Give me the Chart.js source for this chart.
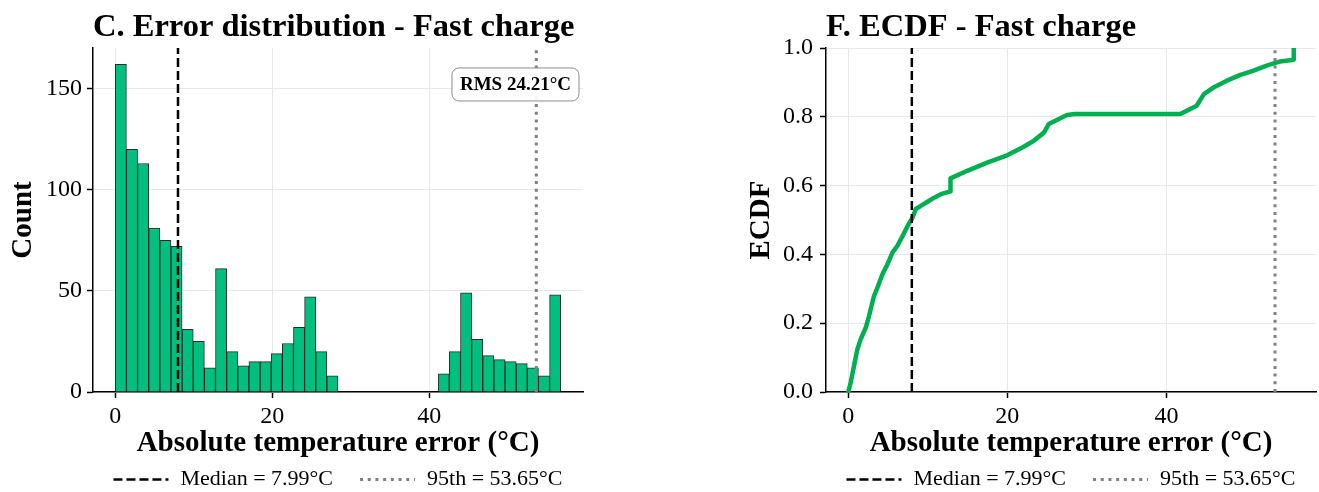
<!DOCTYPE html>
<html>
<head>
<meta charset="utf-8">
<title>Fast charge error</title>
<script src="https://cdn.jsdelivr.net/npm/chart.js@4.4.1/dist/chart.umd.min.js"></script>
<style>
  html, body { margin: 0; padding: 0; background: #fff; }
  #wrap { position: relative; width: 1319px; height: 492px; }
  .panel { position: absolute; top: 0; }
  #histPanel { left: 0; }
  #ecdfPanel { left: 660px; }
</style>
</head>
<body>
<div id="wrap">
  <div class="panel" id="histPanel"><canvas id="hist" width="660" height="492"></canvas></div>
  <div class="panel" id="ecdfPanel"><canvas id="ecdf" width="659" height="492"></canvas></div>
</div>
<script>
// histogram: 40 equal bins starting at 0
const binStart = 0;
const binWidth = 1.419;
const histCounts = [
  162, 120, 113, 81, 75, 72, 31, 25, 12, 61,
  20, 13, 15, 15, 19, 24, 32, 47, 20, 8,
  0, 0, 0, 0, 0, 0, 0, 0, 0,
  9, 20, 49, 26, 18, 16, 15, 14, 12, 8, 48
];

// empirical CDF of the absolute error
const ecdfX = [0, 0.29, 0.71, 1.13, 1.55, 2.18, 2.6, 3.23, 3.66, 4.29, 4.92, 5.55, 6.18,
  6.81, 7.44, 8.07, 8.49, 9.12, 9.96, 10.8, 11.64, 12.85, 12.85,
  14.95, 17.46, 19.97, 22.06, 23.3, 24.6, 25.2, 27.5, 28.5, 41.75, 43.8, 44.7,
  45.9, 47.6, 49.3, 50.96, 52.6, 54.3, 56.0, 56.0];
const ecdfY = [0, 0.026, 0.075, 0.123, 0.153, 0.186, 0.220, 0.279, 0.303, 0.342, 0.371, 0.405, 0.425,
  0.453, 0.482, 0.507, 0.532, 0.541, 0.553, 0.565, 0.575, 0.583, 0.621,
  0.643, 0.667, 0.688, 0.713, 0.730, 0.754, 0.779, 0.805, 0.808, 0.808, 0.832, 0.866,
  0.885, 0.905, 0.922, 0.934, 0.949, 0.961, 0.966, 1.0];

const medianErr = 7.99;
const p95Err = 53.65;
const rmsErr = 24.21;

const histXTicks = [0, 20, 40];
const histYTicks = [0, 50, 100, 150];
const ecdfXTicks = [0, 20, 40];
const ecdfYTicks = [0, 0.2, 0.4, 0.6, 0.8, 1.0];

const SERIF = '"Liberation Serif", "Times New Roman", serif';
Chart.defaults.font.family = SERIF;
Chart.defaults.color = '#000';

// rounded annotation box in the upper right of the plot area
const rmsBox = {
  id: 'rmsBox',
  afterDatasetsDraw(chart, args, opts) {
    if (!opts.text) return;
    const { ctx, chartArea: a } = chart;
    ctx.save();
    ctx.font = 'bold 19px ' + SERIF;
    const w = ctx.measureText(opts.text).width;
    const right = a.left + 0.9755 * (a.right - a.left);
    const cy = a.top + 0.106 * (a.bottom - a.top);
    const padX = 8, h = 33;
    ctx.beginPath();
    ctx.roundRect(right - w - padX, cy - h / 2, w + 2 * padX, h, 7);
    ctx.fillStyle = 'rgba(255,255,255,0.9)';
    ctx.fill();
    ctx.strokeStyle = '#8c8c8c';
    ctx.lineWidth = 1;
    ctx.stroke();
    ctx.fillStyle = '#000';
    ctx.textAlign = 'right';
    ctx.textBaseline = 'middle';
    ctx.fillText(opts.text, right, cy + 1);
    ctx.restore();
  }
};

// legend row under the x axis title, built from the reference-line datasets
const lineLegend = {
  id: 'lineLegend',
  afterDraw(chart, args, opts) {
    const { ctx, chartArea: a } = chart;
    const items = chart.data.datasets.filter(d => d.refLine);
    const handleW = 55, textGap = 12, itemGap = 27;
    ctx.save();
    ctx.font = '22px ' + SERIF;
    const widths = items.map(d => handleW + textGap + ctx.measureText(d.label).width);
    const total = widths.reduce((s, v) => s + v, 0) + itemGap * (items.length - 1);
    let x = (a.left + a.right) / 2 - total / 2;
    const y = chart.scales.x.bottom + opts.offset;
    items.forEach((d, i) => {
      ctx.strokeStyle = d.borderColor;
      ctx.lineWidth = d.borderWidth;
      ctx.setLineDash(d.borderDash);
      ctx.beginPath();
      ctx.moveTo(x, y);
      ctx.lineTo(x + handleW, y);
      ctx.stroke();
      ctx.setLineDash([]);
      ctx.fillStyle = '#000';
      ctx.textAlign = 'left';
      ctx.textBaseline = 'middle';
      ctx.fillText(d.label, x + handleW + textGap, y);
      x += widths[i] + itemGap;
    });
    ctx.restore();
  }
};

function refLines(yTop) {
  return [
    {
      type: 'line', refLine: true, order: 0,
      label: 'Median = ' + medianErr.toFixed(2) + '°C',
      data: [{ x: medianErr, y: 0 }, { x: medianErr, y: yTop }],
      borderColor: '#000', borderWidth: 2.5, borderDash: [9, 4],
      pointRadius: 0, fill: false
    },
    {
      type: 'line', refLine: true, order: 0,
      label: '95th = ' + p95Err.toFixed(2) + '°C',
      data: [{ x: p95Err, y: 0 }, { x: p95Err, y: yTop }],
      borderColor: '#808080', borderWidth: 3, borderDash: [3, 4.7],
      pointRadius: 0, fill: false
    }
  ];
}

function xAxis(min, max, ticks) {
  return {
    type: 'linear', min, max, offset: false,
    afterBuildTicks: s => { s.ticks = ticks.map(v => ({ value: v })); },
    afterFit: s => { s.height = 69; },
    grid: { color: '#e8e8e8', lineWidth: 1, tickColor: '#000', tickLength: 6, tickWidth: 1.5, offset: false },
    border: { color: '#000', width: 1.5 },
    ticks: { font: { size: 24 }, padding: 4, maxRotation: 0 },
    title: {
      display: true, text: 'Absolute temperature error (°C)',
      font: { size: 29, weight: 'bold' }, padding: { top: 0, bottom: 0 }
    }
  };
}

function yAxis(min, max, ticks, title, width, titlePad, tickPad, fmt) {
  return {
    min, max,
    afterBuildTicks: s => { s.ticks = ticks.map(v => ({ value: v })); },
    afterFit: s => { s.width = width; },
    grid: { color: '#e8e8e8', lineWidth: 1, tickColor: '#000', tickLength: 6, tickWidth: 1.5 },
    border: { color: '#000', width: 1.5 },
    ticks: { font: { size: 24 }, padding: tickPad, callback: fmt },
    title: {
      display: true, text: title,
      font: { size: 29, weight: 'bold' }, padding: { top: titlePad, bottom: 0 }
    }
  };
}

function titleOpts(text) {
  return {
    display: true, text, align: 'start', fullSize: false,
    font: { size: 32.5, weight: 'bold' }, padding: { top: 8.5, bottom: 0.5 }
  };
}

// C. histogram of absolute errors
const histMax = 170.1;
const histData = histCounts
  .map((c, i) => ({ x: binStart + (i + 0.5) * binWidth, y: c }))
  .filter(p => p.y > 0);

new Chart(document.getElementById('hist'), {
  type: 'bar',
  data: {
    datasets: [
      ...refLines(histMax),
      {
        type: 'bar', order: 2, label: 'Count',
        data: histData,
        backgroundColor: '#00BF7F',
        borderColor: 'rgba(20,20,20,0.9)',
        borderWidth: 1,
        barPercentage: 1, categoryPercentage: 1
      }
    ]
  },
  options: {
    responsive: false, animation: false,
    layout: { padding: { left: 0, right: 77, top: 0, bottom: 31 } },
    scales: {
      x: xAxis(-2.84, 59.6, histXTicks),
      y: yAxis(0, histMax, histYTicks, 'Count', 93, 5.8, 5, v => String(v))
    },
    plugins: {
      legend: { display: false },
      tooltip: { enabled: false },
      title: titleOpts('C. Error distribution - Fast charge'),
      rmsBox: { text: 'RMS ' + rmsErr.toFixed(2) + '°C' },
      lineLegend: { offset: 18.5 }
    }
  },
  plugins: [rmsBox, lineLegend]
});

// F. empirical CDF
new Chart(document.getElementById('ecdf'), {
  type: 'line',
  data: {
    datasets: [
      ...refLines(1),
      {
        type: 'line', order: 2, label: 'ECDF',
        data: ecdfX.map((x, i) => ({ x, y: ecdfY[i] })),
        borderColor: '#00B050', borderWidth: 4.5,
        borderJoinStyle: 'round', borderCapStyle: 'round',
        pointRadius: 0, fill: false, tension: 0
      }
    ]
  },
  options: {
    responsive: false, animation: false,
    layout: { padding: { left: 80, right: 3, top: 0, bottom: 31 } },
    scales: {
      x: xAxis(-2.8, 58.8, ecdfXTicks),
      y: yAxis(0, 1, ecdfYTicks, 'ECDF', 86, 4.6, 7, v => Number(v).toFixed(1))
    },
    plugins: {
      legend: { display: false },
      tooltip: { enabled: false },
      title: titleOpts('F. ECDF - Fast charge'),
      lineLegend: { offset: 18.5 }
    }
  },
  plugins: [lineLegend]
});
</script>
</body>
</html>
